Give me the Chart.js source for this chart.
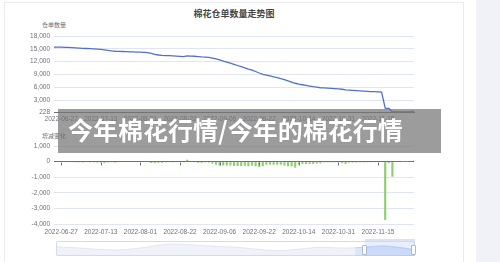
<!DOCTYPE html>
<html><head><meta charset="utf-8">
<script src="https://cdn.jsdelivr.net/npm/chart.js@4/dist/chart.umd.min.js"></script>
<style>
html,body{margin:0;padding:0;width:500px;height:262px;overflow:hidden;background:#fff;font-family:"Liberation Sans",Arial,sans-serif;}
#card{position:absolute;left:4px;top:2px;width:460px;height:280px;border:1px solid #e9ebf0;box-sizing:border-box;}
#side{position:absolute;left:476px;top:0;width:24px;height:262px;background:#f0f2f7;}
canvas{position:absolute;}
#title{position:absolute;left:134px;top:8px;width:200px;text-align:center;font:bold 9px/12px "Noto Sans CJK SC",sans-serif;color:#464646;}
.yname{position:absolute;left:42px;font:6px/8px "Noto Sans CJK SC",sans-serif;color:#6e7079;}
#banner{position:absolute;left:58px;top:109px;width:383px;height:44px;background:rgba(118,118,118,0.72);}
#banner span{position:absolute;left:10px;top:0;font:bold 25px/40px "Noto Sans CJK SC",sans-serif;color:#fff;white-space:nowrap;text-shadow:0 0 1px rgba(0,0,0,0.25);}
#slider{position:absolute;left:56px;top:241px;width:359px;height:15px;border:1px solid #d2dbee;box-sizing:border-box;border-radius:2px;}
#filler{position:absolute;left:365px;top:241px;width:50px;height:15px;background:rgba(135,175,255,0.2);}
#movebar{position:absolute;left:365px;top:239px;width:50px;height:3px;background:rgba(210,219,238,0.8);}
.handle{position:absolute;top:245px;width:3px;height:8px;background:#fff;border:1px solid #acb8d1;border-radius:1px;}
</style></head>
<body>
<div id="card"></div>
<div id="side"></div>
<div id="title">棉花仓单数量走势图</div>
<div class="yname" style="top:21px">仓单数量</div>
<canvas id="c1" width="500" height="130" style="left:0;top:0"></canvas>
<canvas id="c2" width="500" height="110" style="left:0;top:130px"></canvas>
<div id="slider"></div>
<canvas id="c3" width="359" height="15" style="left:56px;top:241px"></canvas>
<div id="filler"></div>
<div id="movebar"></div>
<div class="handle" style="left:362px"></div>
<div class="handle" style="left:411px"></div>
<div id="banner"><span>今年棉花行情/今年的棉花行情</span></div>
<div class="yname" style="top:132px">增减变化</div>
<script>
const dates = [
"2022-06-23","2022-06-24","2022-06-27","2022-06-28","2022-06-29","2022-06-30","2022-07-04","2022-07-05","2022-07-06","2022-07-07",
"2022-07-08","2022-07-11","2022-07-12","2022-07-13","2022-07-14","2022-07-18","2022-07-19","2022-07-20","2022-07-21","2022-07-25",
"2022-07-26","2022-07-27","2022-07-28","2022-07-29","2022-08-01","2022-08-02","2022-08-03","2022-08-04","2022-08-08","2022-08-09",
"2022-08-11","2022-08-12","2022-08-16","2022-08-17","2022-08-19","2022-08-22","2022-08-23","2022-08-24","2022-08-25","2022-08-26",
"2022-08-29","2022-08-30","2022-08-31","2022-09-01","2022-09-02","2022-09-05","2022-09-06","2022-09-07","2022-09-08","2022-09-09",
"2022-09-13","2022-09-14","2022-09-15","2022-09-16","2022-09-19","2022-09-20","2022-09-21","2022-09-22","2022-09-23","2022-09-26",
"2022-09-27","2022-09-28","2022-09-29","2022-09-30","2022-10-10","2022-10-11","2022-10-12","2022-10-13","2022-10-14","2022-10-17",
"2022-10-18","2022-10-19","2022-10-20","2022-10-21","2022-10-24","2022-10-25","2022-10-26","2022-10-27","2022-10-28","2022-10-31",
"2022-11-01","2022-11-02","2022-11-03","2022-11-04","2022-11-07","2022-11-08","2022-11-09","2022-11-10","2022-11-11","2022-11-14",
"2022-11-15","2022-11-16","2022-11-17","2022-11-18","2022-11-21","2022-11-22","2022-11-23","2022-11-24","2022-11-25","2022-11-28",
"2022-11-29"];

const tickLabels = ["2022-06-27","2022-07-13","2022-08-01","2022-08-22","2022-09-06","2022-09-22","2022-10-14","2022-10-31","2022-11-15"];

const receipts = [
15420,15400,15380,15350,15320,15280,15230,15180,15120,15080,
15030,14980,14920,14850,14760,14620,14500,14430,14400,14370,
14340,14310,14280,14250,14210,14170,14130,13950,13700,13560,
13480,13430,13390,13340,13300,13250,13200,13330,13300,13260,
13180,13100,13050,12980,12850,12650,12400,12150,11900,11650,
11380,11100,10820,10550,10250,10000,9700,9350,9050,8850,
8650,8450,8250,8050,7800,7500,7200,6950,6750,6600,
6450,6300,6150,6020,5900,5850,5800,5750,5700,5650,
5550,5400,5330,5270,5210,5160,5110,5060,5010,4970,
4930,4890,1150,1050,280,260,260,270,280,330,
400];

const changes = [
-20,-20,-20,-30,-30,-40,-50,-50,-60,-40,-50,-50,-60,-70,-90,
-60,-50,-70,-30,-30,-30,-30,-30,-30,-40,-40,-40,
-90,-100,-80,-80,-50,-40,-50,-40,
-40,-50,120,-30,-40,-80,-80,-50,-70,-130,
-200,-250,-250,-250,-250,-270,-280,-280,-270,-300,
-250,-300,-350,-300,-200,-200,-200,-200,-200,-250,-300,-300,
-390,-200,-150,-150,-150,-150,-130,-120,
-50,-50,-50,-50,-50,-100,-150,-70,-60,-60,-50,-50,-50,-50,-40,-40,-40,
-3740,-100,-970,-20,0,10,10,50,70];

const countTicks = [228,3000,6000,9000,12000,15000,18000];
const changeTicks = [-4000,-3000,-2000,-1000,0,1000];

// data shadow inside the zoom slider (relative heights)
const sliderShadow = [9.3,8.8,8.2,7.5,6.8,6.2,6.0,6.5,7.5,8.8,
10.5,11.8,12.0,11.6,11.0,10.3,9.8,9.3,8.8,8.0,
7.0,6.0,5.4,5.6,6.5,7.5,8.5,8.7,8.2,8.0,
8.2,8.8,9.6,10.0,9.0,7.8,6.0];
const sliderSelectedFrom = 30;

Chart.defaults.font.family = '"Liberation Sans", Arial, sans-serif';
Chart.defaults.color = '#6e7079';

const fmt = v => Number(v).toLocaleString('en-US');
function xTickCb(v){ const l = this.getLabelForValue(v); return tickLabels.includes(l) ? l : ''; }

const zeroTicks = {
  id:'zeroTicks',
  afterDatasetsDraw(chart, args, opts){
    if(!opts.enabled) return;
    const xs = chart.scales.x, ys = chart.scales.y;
    const y0 = Math.round(ys.getPixelForValue(0)) + 0.5;
    const ctx = chart.ctx;
    ctx.save();
    ctx.strokeStyle = '#6e7079'; ctx.lineWidth = 1;
    tickLabels.forEach(l => {
      const i = dates.indexOf(l);
      const x = Math.round(xs.getPixelForValue(i)) + 0.5;
      ctx.beginPath(); ctx.moveTo(x, y0); ctx.lineTo(x, y0 + 3); ctx.stroke();
    });
    ctx.restore();
  }
};

const tickFont = {size:6.5};

new Chart(document.getElementById('c1'), {
  type:'line',
  data:{labels:dates, datasets:[{data:receipts, borderColor:'#5470c6', borderWidth:1.3, pointRadius:0, tension:0, fill:false}]},
  options:{
    responsive:false, animation:false, devicePixelRatio:1,
    layout:{padding:{left:0,right:86,top:36,bottom:0}},
    plugins:{legend:{display:false}, tooltip:{enabled:false}},
    scales:{
      x:{type:'category', offset:false, grid:{display:false, drawTicks:false}, border:{display:true,color:'#6e7079',width:1},
         ticks:{autoSkip:false,maxRotation:0,minRotation:0,padding:3,color:'#6e7079',font:tickFont,callback:xTickCb},
         afterFit(s){ s.height = 18; }},
      y:{min:228,max:18000, afterBuildTicks(s){ s.ticks = countTicks.map(v=>({value:v})); }, afterFit(s){ s.width = 54; },
         grid:{color:'#e0e6f1', drawTicks:false}, border:{display:false},
         ticks:{padding:4,color:'#6e7079',font:tickFont,callback:fmt}}
    }
  }
});

new Chart(document.getElementById('c2'), {
  type:'bar',
  data:{labels:dates, datasets:[{data:changes, backgroundColor:'#91cc75', barPercentage:0.6, categoryPercentage:1.0}]},
  plugins:[zeroTicks],
  options:{
    responsive:false, animation:false, devicePixelRatio:1,
    layout:{padding:{left:0,right:86,top:16,bottom:0}},
    plugins:{legend:{display:false}, tooltip:{enabled:false}, zeroTicks:{enabled:true}},
    scales:{
      x:{type:'category', offset:false, grid:{display:false, drawTicks:false}, border:{display:false},
         ticks:{autoSkip:false,maxRotation:0,minRotation:0,padding:4,color:'#6e7079',font:tickFont,callback:xTickCb},
         afterFit(s){ s.height = 16; }},
      y:{min:-4000,max:1000, afterBuildTicks(s){ s.ticks = changeTicks.map(v=>({value:v})); }, afterFit(s){ s.width = 54; },
         grid:{color:c => (c.tick && c.tick.value === 0) ? '#6e7079' : '#e0e6f1', drawTicks:false}, border:{display:false},
         ticks:{padding:4,color:'#6e7079',font:tickFont,callback:fmt}}
    }
  }
});

new Chart(document.getElementById('c3'), {
  type:'line',
  data:{labels:sliderShadow.map((_, i) => i), datasets:[
    {data:sliderShadow, borderColor:'#d2dbee', borderWidth:0.6, backgroundColor:'rgba(210,219,238,0.35)', fill:'origin', pointRadius:0, tension:0},
    {data:sliderShadow.map((v, i) => i >= sliderSelectedFrom ? v : null), borderColor:'#8fb0f7', borderWidth:0.6, backgroundColor:'rgba(143,176,247,0.25)', fill:'origin', pointRadius:0, tension:0, spanGaps:false}
  ]},
  options:{
    responsive:false, animation:false, devicePixelRatio:1,
    layout:{padding:0},
    plugins:{legend:{display:false}, tooltip:{enabled:false}},
    scales:{x:{display:false, offset:false}, y:{display:false, min:0, max:15}}
  }
});
</script>
</body></html>
